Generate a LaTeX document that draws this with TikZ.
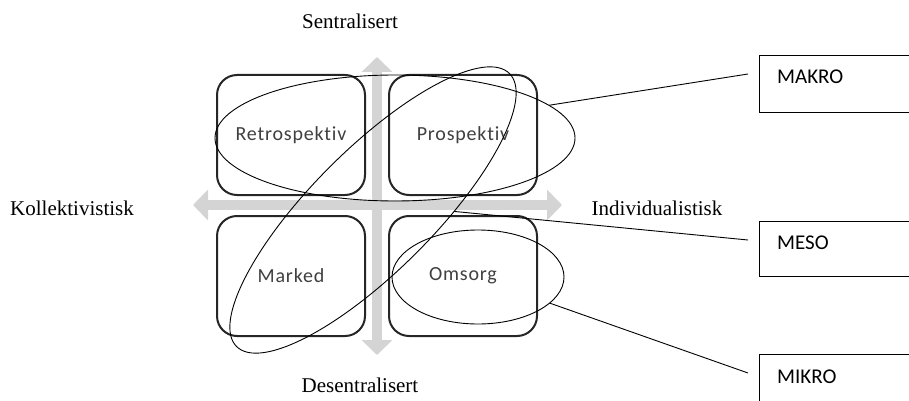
\documentclass[tikz,border=0pt]{standalone}
\usepackage{fontspec}
\setmainfont{Liberation Serif}
\newfontfamily\calfont[Ligatures=NoCommon]{Carlito}
\newfontfamily\quadfont[Ligatures=NoCommon,LetterSpace=4]{Carlito}
\usetikzlibrary{shapes.geometric,arrows.meta}
\definecolor{axisgray}{HTML}{D4D4D4}
\definecolor{boxline}{HTML}{262626}
\definecolor{labgray}{HTML}{404040}
\begin{document}
\begin{tikzpicture}[x=1pt,y=-1pt,
  qbox/.style={draw=boxline,line width=2pt,rounded corners=20pt,fill=white,
    minimum width=148pt,minimum height=120pt,inner sep=0pt,
    font=\quadfont\fontsize{20}{24}\selectfont,text=labgray},
  oval/.style={draw=black,line width=0.9pt,ellipse,inner sep=0pt,outer sep=0pt},
  axis/.style={draw=axisgray,line width=10pt,{Triangle[width=30pt,length=15pt]}-{Triangle[width=30pt,length=15pt]}},
  levelbox/.style={draw=black,line width=1pt},
  leveltext/.style={font=\calfont\fontsize{21}{25}\selectfont,inner sep=0pt,anchor=west},
  sidetext/.style={font=\fontsize{21}{25}\selectfont,inner sep=0pt},
  conn/.style={draw=black,line width=0.9pt}]
\useasboundingbox (0,0) rectangle (909,401);
\clip (0,0) rectangle (909,401);

% axes
\coordinate (vt) at (377,57);
\coordinate (vb) at (377,355);
\coordinate (hl) at (193,205);
\coordinate (hr) at (562,205);
\draw[axis] (vt) -- (vb);
\draw[axis] (hl) -- (hr);

% quadrants
\node[qbox] (retro) at (291,135) {Retrospektiv};
\node[qbox] (pros) at (463,135) {Prospektiv};
\node[qbox] (mark) at (291,276) {Marked};
\node[qbox] (oms) at (463,276) {Omsorg};

% axis labels
\node[sidetext] (sen) at (350,21) {Sentralisert};
\node[sidetext] (des) at (360,385) {Desentralisert};
\node[sidetext] (kol) at (72,208) {Kollektivistisk};
\node[sidetext] (ind) at (657,208) {Individualistisk};

% ellipses
\node[oval,minimum width=360pt,minimum height=126pt] (mak) at (395,138) {};
\node[oval,minimum width=386pt,minimum height=122pt,rotate=45] (mes) at (373,210) {};
\node[oval,minimum width=172pt,minimum height=94pt] (mik) at (478,277) {};

% level boxes
\draw[levelbox] (759,56) rectangle (940,113);
\draw[levelbox] (759,221) rectangle (940,276);
\draw[levelbox] (759,354) rectangle (940,420);
\node[leveltext] (makro) at (777,77) {MAKRO};
\node[leveltext] (meso) at (777,243) {MESO};
\node[leveltext] (mikro) at (777,377) {MIKRO};

% connectors
\coordinate (cmak) at (748,74);
\coordinate (cmes) at (748,240);
\coordinate (cmik) at (748,373);
\draw[conn] (mak.12) -- (cmak);
\draw[conn] (mes.-46) -- (cmes);
\draw[conn] (mik.-20) -- (cmik);
\end{tikzpicture}
\end{document}
